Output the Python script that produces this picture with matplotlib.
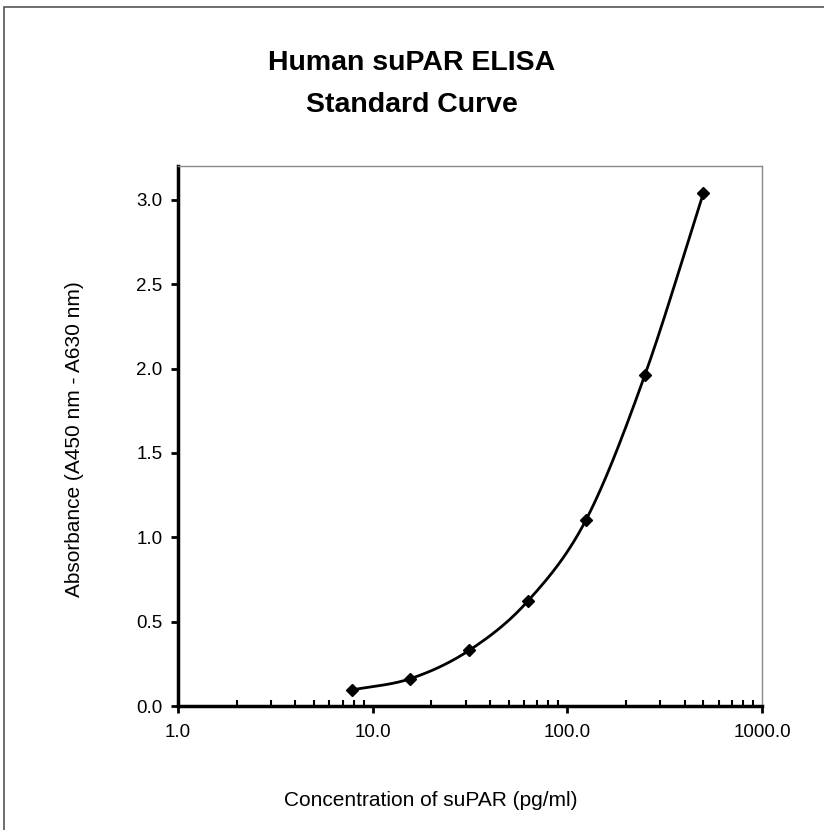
import numpy as np
import matplotlib.pyplot as plt
from matplotlib.patches import Rectangle

plt.rcParams['font.family'] = ['Liberation Sans', 'DejaVu Sans']

# standard curve data
conc = [7.8125, 15.625, 31.25, 62.5, 125.0, 250.0, 500.0]
absorb = [0.095, 0.162, 0.329, 0.62, 1.105, 1.96, 3.04]
x_ticks = [1.0, 10.0, 100.0, 1000.0]
x_tick_labels = ["1.0", "10.0", "100.0", "1000.0"]
y_ticks = [0.0, 0.5, 1.0, 1.5, 2.0, 2.5, 3.0]
y_tick_labels = ["0.0", "0.5", "1.0", "1.5", "2.0", "2.5", "3.0"]


def smooth(xs, ys, n=30):
    # catmull-rom through the points in log-x space, like a smoothed excel line
    lx = np.log10(xs)
    ys = np.asarray(ys)
    px = np.concatenate([[2 * lx[0] - lx[1]], lx, [2 * lx[-1] - lx[-2]]])
    py = np.concatenate([[2 * ys[0] - ys[1]], ys, [2 * ys[-1] - ys[-2]]])
    outx, outy = [], []
    t = np.linspace(0, 1, n)
    for i in range(1, len(px) - 2):
        for p, out in ((px, outx), (py, outy)):
            p0, p1, p2, p3 = p[i - 1], p[i], p[i + 1], p[i + 2]
            out.extend(0.5 * (2 * p1 + (-p0 + p2) * t + (2 * p0 - 5 * p1 + 4 * p2 - p3) * t ** 2
                              + (-p0 + 3 * p1 - 3 * p2 + p3) * t ** 3))
    return 10 ** np.array(outx), np.array(outy)


fig = plt.figure(figsize=(8.24, 8.30), dpi=100)
fig.patches.append(Rectangle((4 / 824, -0.1), 1.2, 1 - 7 / 830 + 0.1, transform=fig.transFigure,
                             fill=False, edgecolor='#555555', linewidth=1.2))

ax = fig.add_axes([178 / 824, 1 - 706 / 830, (762 - 178) / 824, (706 - 166) / 830])
sx, sy = smooth(conc, absorb)
ax.plot(sx, sy, color='black', linewidth=2)
ax.plot(conc, absorb, linestyle='none', marker='D', markersize=6, color='black')

ax.set_xscale('log')
ax.set_xlim(1, 1000)
ax.set_ylim(0, 3.2)
ax.set_xticks(x_ticks)
ax.set_xticklabels(x_tick_labels)
ax.set_yticks(y_ticks)
ax.set_yticklabels(y_tick_labels)

for s in ['left', 'bottom']:
    ax.spines[s].set_linewidth(2.5)
    ax.spines[s].set_color('black')
for s in ['top', 'right']:
    ax.spines[s].set_linewidth(1.0)
    ax.spines[s].set_color('#888888')

ax.tick_params(axis='both', which='major', labelsize=13.5, width=2, length=5, direction='out', pad=6)
ax.tick_params(axis='x', which='minor', direction='in', length=4, width=1.5)
ax.tick_params(axis='x', which='major', pad=8)

fig.text(0.5, 1 - 63 / 830, "Human suPAR ELISA", ha='center', va='center', fontsize=20.5, fontweight='bold')
fig.text(0.5, 1 - 105 / 830, "Standard Curve", ha='center', va='center', fontsize=20.5, fontweight='bold')
fig.text(431 / 824, 1 - 800 / 830, "Concentration of suPAR (pg/ml)", ha='center', va='center', fontsize=15)
fig.text(75 / 824, 1 - 439 / 830, "Absorbance (A450 nm - A630 nm)", ha='center', va='center',
         fontsize=15, rotation=90)

fig.savefig("out.png", dpi=100)
